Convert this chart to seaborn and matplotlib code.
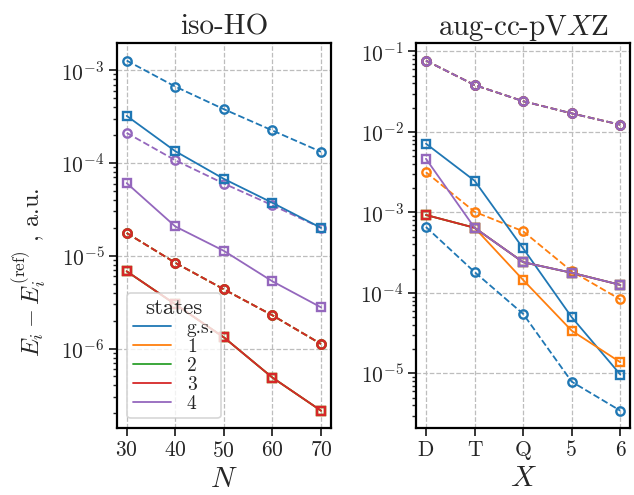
import numpy as np
import pandas as pd
import matplotlib
matplotlib.use("Agg")
import matplotlib.pyplot as plt
from matplotlib.lines import Line2D
import seaborn as sns

# ---------------- data ----------------
states = ["g.s.", "1", "2", "3", "4"]
colors = ["#1f77b4", "#ff7f0e", "#2ca02c", "#d62728", "#9467bd"]

N_vals = [30, 40, 50, 60, 70]
X_ticks = [2, 3, 4, 5, 6]
X_labels = ["D", "T", "Q", "5", "6"]

# iso-HO, dashed (circles)
ho_dash_gs = [1.27e-3, 6.66e-4, 3.80e-4, 2.24e-4, 1.32e-4]
ho_dash_1 = [1.76e-5, 8.4e-6, 4.35e-6, 2.28e-6, 1.12e-6]
ho_dash_2 = [1.76e-5, 8.4e-6, 4.35e-6, 2.28e-6, 1.12e-6]
ho_dash_3 = [1.76e-5, 8.4e-6, 4.35e-6, 2.28e-6, 1.12e-6]
ho_dash_4 = [2.11e-4, 1.07e-4, 6.0e-5, 3.5e-5, 2.0e-5]
# iso-HO, solid (squares)
ho_sol_gs = [3.22e-4, 1.34e-4, 6.74e-5, 3.72e-5, 2.0e-5]
ho_sol_1 = [6.8e-6, 3.0e-6, 1.32e-6, 4.86e-7, 2.14e-7]
ho_sol_2 = [6.8e-6, 3.0e-6, 1.32e-6, 4.86e-7, 2.14e-7]
ho_sol_3 = [6.8e-6, 3.0e-6, 1.32e-6, 4.86e-7, 2.14e-7]
ho_sol_4 = [6.07e-5, 2.07e-5, 1.13e-5, 5.3e-6, 2.78e-6]

# aug-cc-pVXZ, dashed (circles)
cc_dash_gs = [6.6e-4, 1.82e-4, 5.5e-5, 7.9e-6, 3.45e-6]
cc_dash_1 = [3.16e-3, 1.02e-3, 5.83e-4, 1.86e-4, 8.3e-5]
cc_dash_2 = [7.7e-2, 3.83e-2, 2.41e-2, 1.70e-2, 1.23e-2]
cc_dash_3 = [7.7e-2, 3.83e-2, 2.41e-2, 1.70e-2, 1.23e-2]
cc_dash_4 = [7.7e-2, 3.83e-2, 2.41e-2, 1.70e-2, 1.23e-2]
# aug-cc-pVXZ, solid (squares)
cc_sol_gs = [7.15e-3, 2.48e-3, 3.58e-4, 5.0e-5, 9.7e-6]
cc_sol_1 = [9.3e-4, 6.46e-4, 1.45e-4, 3.4e-5, 1.38e-5]
cc_sol_2 = [9.3e-4, 6.46e-4, 2.41e-4, 1.78e-4, 1.26e-4]
cc_sol_3 = [9.3e-4, 6.46e-4, 2.41e-4, 1.78e-4, 1.26e-4]
cc_sol_4 = [4.64e-3, 6.46e-4, 2.41e-4, 1.78e-4, 1.26e-4]

ho_dash = [ho_dash_gs, ho_dash_1, ho_dash_2, ho_dash_3, ho_dash_4]
ho_sol = [ho_sol_gs, ho_sol_1, ho_sol_2, ho_sol_3, ho_sol_4]
cc_dash = [cc_dash_gs, cc_dash_1, cc_dash_2, cc_dash_3, cc_dash_4]
cc_sol = [cc_sol_gs, cc_sol_1, cc_sol_2, cc_sol_3, cc_sol_4]

# ---------------- style ----------------
sns.set_style("ticks", {"axes.grid": True, "grid.linestyle": "--",
                        "grid.color": "#bdbdbd", "axes.edgecolor": "black"})
plt.rcParams["font.family"] = "serif"
plt.rcParams["font.serif"] = ["cmr10", "DejaVu Serif"]
plt.rcParams["mathtext.fontset"] = "cm"
plt.rcParams["axes.formatter.use_mathtext"] = True
plt.rcParams["axes.unicode_minus"] = False
plt.rcParams["grid.linewidth"] = 0.9
plt.rcParams["axes.linewidth"] = 1.6
plt.rcParams["xtick.major.size"] = 5.5
plt.rcParams["ytick.major.size"] = 5.5
plt.rcParams["xtick.major.width"] = 1.3
plt.rcParams["ytick.major.width"] = 1.3
plt.rcParams["ytick.minor.size"] = 3.2
plt.rcParams["ytick.minor.width"] = 1.0
plt.rcParams["xtick.labelsize"] = 15.5
plt.rcParams["ytick.labelsize"] = 15.5

fig, axes = plt.subplots(1, 2, figsize=(6.34, 4.95), dpi=100)
fig.subplots_adjust(left=0.1845, right=0.9937, top=0.913, bottom=0.135, wspace=0.40)


def draw(ax, x, dash, sol):
    for vals, c in zip(dash, colors):
        sns.lineplot(x=x, y=vals, ax=ax, color=c, linestyle="--", lw=1.3,
                     marker="o", ms=6, mfc="none", mec=c, mew=1.7)
    for vals, c in zip(sol, colors):
        sns.lineplot(x=x, y=vals, ax=ax, color=c, linestyle="-", lw=1.3,
                     marker="s", ms=6, mfc="none", mec=c, mew=1.7)
    ax.set_yscale("log")
    ax.grid(True, which="major", linestyle="--", color="#bdbdbd", lw=0.9)
    ax.grid(False, which="minor")
    ax.tick_params(which="both", direction="out", left=True, bottom=True)


ax1, ax2 = axes
draw(ax1, N_vals, ho_dash, ho_sol)
draw(ax2, X_ticks, cc_dash, cc_sol)

ax1.set_xticks(N_vals)
ax2.set_xticks(X_ticks)
ax2.set_xticklabels(X_labels)

ax1.set_title("iso-HO", fontsize=21)
ax2.set_title(r"aug-cc-pV$X$Z", fontsize=21)
ax1.set_xlabel(r"$N$", fontsize=21)
ax2.set_xlabel(r"$X$", fontsize=21)
ax1.set_ylabel(r"$E_i - E_i^{(\mathrm{ref})}$ , a.u.", fontsize=17.5)
ax1.yaxis.set_label_coords(-0.32, 0.405)

handles = [Line2D([0], [0], color=c, lw=1.3) for c in colors]
leg = ax1.legend(handles, states, title="states", loc="lower left",
                 fontsize=14, title_fontsize=16.5, frameon=True,
                 handlelength=2.0, labelspacing=0.05, borderpad=0.3)
leg.get_frame().set_edgecolor("#cccccc")
leg.get_frame().set_linewidth(1.2)

fig.savefig("out.png", dpi=100)
